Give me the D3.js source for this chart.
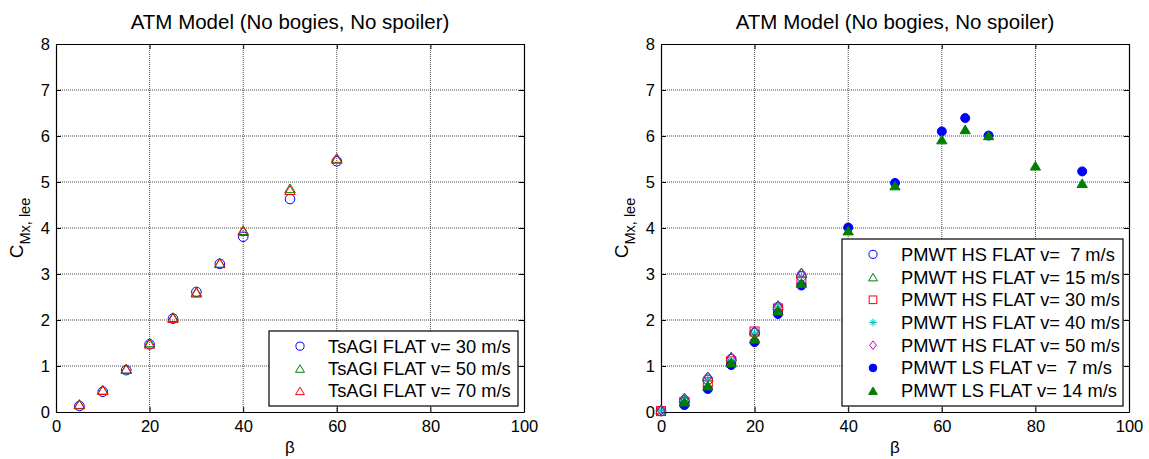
<!DOCTYPE html>
<html>
<head>
<meta charset="utf-8">
<script src="https://cdn.jsdelivr.net/npm/d3@7"></script>
<style>
body { margin: 0; background: #fff; }
text { font-family: "Liberation Sans", Arial, sans-serif; }
</style>
</head>
<body>
<div id="chart"></div>
<script>
// data
var xTicks = [0, 20, 40, 60, 80, 100]
var yTicks = [0, 1, 2, 3, 4, 5, 6, 7, 8]

var tsagiBeta = [5, 10, 15, 20, 25, 30, 35, 40, 50, 60]
var tsagi30 = [0.13, 0.44, 0.91, 1.47, 2.03, 2.61, 3.22, 3.81, 4.63, 5.45]
var tsagi50 = [0.15, 0.46, 0.92, 1.49, 2.04, 2.59, 3.22, 3.93, 4.84, 5.50]
var tsagi70 = [0.14, 0.45, 0.91, 1.46, 2.02, 2.57, 3.21, 3.91, 4.80, 5.48]

var hsBeta = [0, 5, 10, 15, 20, 25, 30]
var hs7 = [0.02, 0.25, 0.70, 1.15, 1.72, 2.28, 2.95]
var hs15 = [0.03, 0.28, 0.75, 1.18, 1.75, 2.30, 3.00]
var hs30 = [0.02, 0.22, 0.65, 1.10, 1.75, 2.25, 2.85]
var hs40 = [0.03, 0.25, 0.72, 1.12, 1.72, 2.30, 2.95]
var hs50 = [0.04, 0.30, 0.76, 1.18, 1.75, 2.30, 3.02]

var ls7Beta = [5, 10, 15, 20, 25, 30, 40, 50, 60, 65, 70, 90]
var ls7 = [0.15, 0.50, 1.02, 1.52, 2.13, 2.75, 4.01, 4.98, 6.10, 6.39, 6.01, 5.23]
var ls14Beta = [5, 10, 15, 20, 25, 30, 40, 50, 60, 65, 70, 80, 90]
var ls14 = [0.20, 0.55, 1.05, 1.57, 2.18, 2.78, 3.92, 4.90, 5.90, 6.12, 5.99, 5.33, 4.95]

var title = "ATM Model (No bogies, No spoiler)"

var W = 1149, H = 459
var svg = d3.select('#chart').append('svg')
	.attr('width', W)
	.attr('height', H)

var leftSeries = [
	{name: "TsAGI FLAT v= 30 m/s", x: tsagiBeta, y: tsagi30, shape: "circle", color: "blue", fill: false},
	{name: "TsAGI FLAT v= 50 m/s", x: tsagiBeta, y: tsagi50, shape: "triangle", color: "green", fill: false},
	{name: "TsAGI FLAT v= 70 m/s", x: tsagiBeta, y: tsagi70, shape: "triangle", color: "red", fill: false}
]
var rightSeries = [
	{name: "PMWT HS FLAT v=\u00a0 7 m/s", x: hsBeta, y: hs7, shape: "circle", color: "blue", fill: false},
	{name: "PMWT HS FLAT v= 15 m/s", x: hsBeta, y: hs15, shape: "triangle", color: "green", fill: false},
	{name: "PMWT HS FLAT v= 30 m/s", x: hsBeta, y: hs30, shape: "square", color: "red", fill: false},
	{name: "PMWT HS FLAT v= 40 m/s", x: hsBeta, y: hs40, shape: "star", color: "#00c0c0", fill: false},
	{name: "PMWT HS FLAT v= 50 m/s", x: hsBeta, y: hs50, shape: "diamond", color: "#c000c0", fill: false},
	{name: "PMWT LS FLAT v=\u00a0 7 m/s", x: ls7Beta, y: ls7, shape: "circle", color: "blue", fill: true},
	{name: "PMWT LS FLAT v= 14 m/s", x: ls14Beta, y: ls14, shape: "triangle", color: "green", fill: true}
]

function marker(g, shape, color, fill, cx, cy, s) {
	s = s || 1
	if (shape == "circle") {
		g.append("circle").attr("cx", cx).attr("cy", cy).attr("r", (fill ? 4.5 : 4.8) * s)
			.attr("fill", fill ? color : "none").attr("stroke", color).attr("stroke-width", 1)
	} else if (shape == "triangle") {
		var r = (fill ? 5.4 : 5.5) * s
		g.append("path")
			.attr("d", "M" + cx + "," + (cy - r) + "L" + (cx + r * 0.95) + "," + (cy + r * 0.6) + "L" + (cx - r * 0.95) + "," + (cy + r * 0.6) + "Z")
			.attr("fill", fill ? color : "none").attr("stroke", color).attr("stroke-width", 1)
	} else if (shape == "square") {
		var a = 4.5 * s
		g.append("rect").attr("x", cx - a).attr("y", cy - a).attr("width", 2 * a).attr("height", 2 * a)
			.attr("fill", "none").attr("stroke", color).attr("stroke-width", 1)
	} else if (shape == "diamond") {
		var d = 5 * s
		g.append("path")
			.attr("d", "M" + cx + "," + (cy - d) + "L" + (cx + d * 0.8) + "," + cy + "L" + cx + "," + (cy + d) + "L" + (cx - d * 0.8) + "," + cy + "Z")
			.attr("fill", "none").attr("stroke", color).attr("stroke-width", 1)
	} else if (shape == "star") {
		var k = 4.5 * s, p = ""
		for (var i = 0; i < 4; i++) {
			var ang = i * Math.PI / 4
			p += "M" + (cx - k * Math.cos(ang)) + "," + (cy - k * Math.sin(ang)) + "L" + (cx + k * Math.cos(ang)) + "," + (cy + k * Math.sin(ang))
		}
		g.append("path").attr("d", p).attr("stroke", color).attr("stroke-width", 1).attr("fill", "none")
	}
}

function panel(left, series, legendBox) {
	var top = 44, bottom = 412, width = 468
	var x = d3.scaleLinear().domain([0, 100]).range([left, left + width])
	var y = d3.scaleLinear().domain([0, 8]).range([bottom, top])
	var g = svg.append("g")

	// grid
	g.selectAll(".gx").data(xTicks.slice(1, -1)).enter().append("line")
		.attr("x1", function(d) { return x(d) }).attr("x2", function(d) { return x(d) })
		.attr("y1", top).attr("y2", bottom)
		.attr("stroke", "#333").attr("stroke-width", 0.9).attr("stroke-dasharray", "1,1")
	g.selectAll(".gy").data(yTicks.slice(1, -1)).enter().append("line")
		.attr("y1", function(d) { return y(d) }).attr("y2", function(d) { return y(d) })
		.attr("x1", left).attr("x2", left + width)
		.attr("stroke", "#333").attr("stroke-width", 0.9).attr("stroke-dasharray", "1,1")

	// axes with inward ticks
	g.append("g").attr("transform", "translate(0," + bottom + ")")
		.call(d3.axisBottom(x).tickValues(xTicks).tickSizeInner(-5).tickSizeOuter(0).tickPadding(8))
	g.append("g").attr("transform", "translate(0," + top + ")")
		.call(d3.axisTop(x).tickValues(xTicks).tickSizeInner(-5).tickSizeOuter(0).tickFormat(""))
	g.append("g").attr("transform", "translate(" + left + ",0)")
		.call(d3.axisLeft(y).tickValues(yTicks).tickSizeInner(-5).tickSizeOuter(0).tickPadding(6))
	g.append("g").attr("transform", "translate(" + (left + width) + ",0)")
		.call(d3.axisRight(y).tickValues(yTicks).tickSizeInner(-5).tickSizeOuter(0).tickFormat(""))
	g.selectAll(".domain").attr("stroke", "#000").attr("stroke-width", 1.2)
	g.selectAll(".tick text").attr("font-size", 16.5).attr("fill", "#000")
		.style("font-family", "Liberation Sans, Arial, sans-serif")
	g.selectAll(".tick line").attr("stroke", "#000")

	// title and labels
	g.append("text").attr("x", left + width / 2).attr("y", 29).attr("text-anchor", "middle")
		.attr("font-size", 20.5).text(title)
	g.append("text").attr("x", left + width / 2).attr("y", 453).attr("text-anchor", "middle")
		.attr("font-size", 17).text("β")
	var yl = g.append("text").attr("transform", "translate(" + (left - 33) + "," + (top + bottom) / 2 + ") rotate(-90)")
		.attr("text-anchor", "middle").attr("font-size", 19)
	yl.append("tspan").text("C")
	yl.append("tspan").attr("font-size", 14.5).attr("dy", 7).text("Mx, lee")

	// points
	series.forEach(function(s) {
		var pg = g.append("g")
		s.x.forEach(function(b, i) {
			marker(pg, s.shape, s.color, s.fill, x(b), y(s.y[i]))
		})
	})

	// legend
	var lg = g.append("g")
	lg.append("rect").attr("x", legendBox.x).attr("y", legendBox.y).attr("width", legendBox.w).attr("height", legendBox.h)
		.attr("fill", "#fff").attr("stroke", "#000").attr("stroke-width", 1.2)
	var rowH = (legendBox.h - 8) / series.length
	series.forEach(function(s, i) {
		var cy = legendBox.y + 4 + rowH * (i + 0.5)
		marker(lg, s.shape, s.color, s.fill, legendBox.x + 31, s.shape == "triangle" ? cy + 1 : cy, 0.85)
		lg.append("text").attr("x", legendBox.x + 59).attr("y", cy + 6.5).attr("font-size", 18.3).text(s.name)
	})
}

panel(56, leftSeries, {x: 269, y: 331, w: 249, h: 75})
panel(661, rightSeries, {x: 842, y: 239, w: 281, h: 167})
</script>
</body>
</html>
